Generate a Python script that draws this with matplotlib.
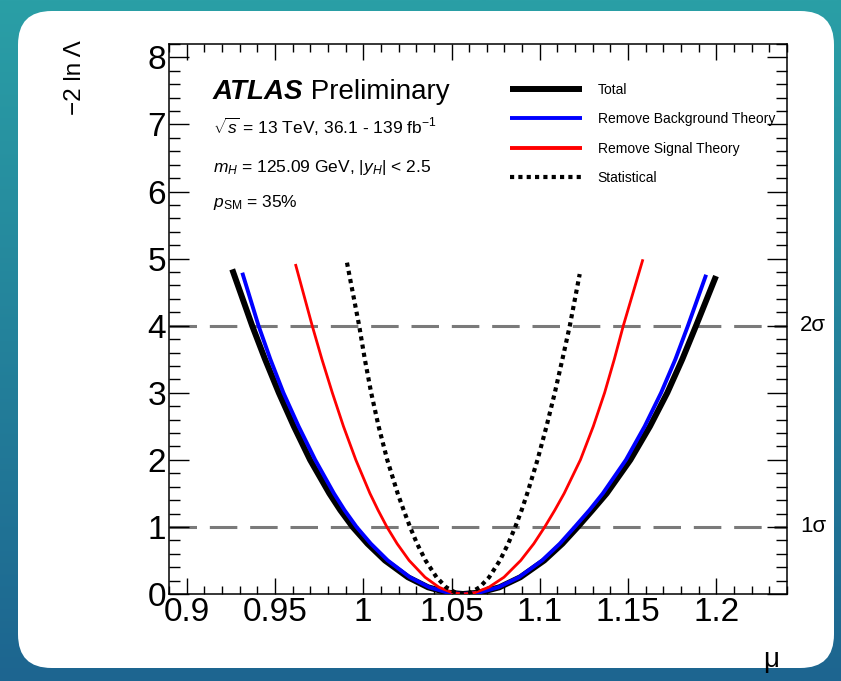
import numpy as np
import matplotlib
matplotlib.use("Agg")
import matplotlib.pyplot as plt
from matplotlib.patches import FancyBboxPatch
from matplotlib.lines import Line2D

plt.rcParams['font.family'] = ['Liberation Sans', 'DejaVu Sans']
plt.rcParams['mathtext.fontset'] = 'custom'
plt.rcParams['mathtext.rm'] = 'Liberation Sans'
plt.rcParams['mathtext.it'] = 'Liberation Sans:italic'
plt.rcParams['mathtext.bf'] = 'Liberation Sans:bold'

# -2 ln Lambda levels shared by every scan
nll_left = [4.0, 3.5, 3.0, 2.5, 2.0, 1.5, 1.25, 1.0, 0.75, 0.5, 0.25, 0.1, 0.02]
nll_right = [0.02, 0.1, 0.25, 0.5, 0.75, 1.0, 1.25, 1.5, 2.0, 2.5, 3.0, 3.5, 4.0]
mu_best = 1.0565

# mu at those levels, plus the end points of each curve
total_left = [0.9371, 0.9444, 0.9522, 0.9607, 0.9699, 0.9808, 0.9870, 0.9940, 1.0024, 1.0123, 1.0253, 1.0367, 1.0477]
total_right = [1.0657, 1.0771, 1.0890, 1.1025, 1.1128, 1.1215, 1.1298, 1.1379, 1.1513, 1.1624, 1.1722, 1.1807, 1.1885]
total_ends = [(0.9258, 4.84), (1.1998, 4.74)]

bkg_left = [0.9407, 0.9474, 0.9548, 0.9634, 0.9728, 0.9834, 0.9894, 0.9962, 1.0043, 1.0139, 1.0264, 1.0374, 1.0480]
bkg_right = [1.0655, 1.0765, 1.0882, 1.1013, 1.1113, 1.1198, 1.1281, 1.1357, 1.1488, 1.1594, 1.1687, 1.1768, 1.1839]
bkg_ends = [(0.9315, 4.79), (1.1942, 4.76)]

sig_left = [0.9711, 0.9766, 0.9825, 0.9888, 0.9958, 1.0038, 1.0084, 1.0134, 1.0192, 1.0260, 1.0350, 1.0429, 1.0504]
sig_right = [1.0631, 1.0711, 1.0797, 1.0892, 1.0966, 1.1028, 1.1085, 1.1138, 1.1230, 1.1303, 1.1367, 1.1422, 1.1473]
sig_ends = [(0.9616, 4.92), (1.1584, 4.99)]

stat_left = [0.9977, 1.0009, 1.0045, 1.0087, 1.0136, 1.0195, 1.0229, 1.0265, 1.0305, 1.0353, 1.0415, 1.0470, 1.0523]
stat_right = [1.0607, 1.0659, 1.0713, 1.0774, 1.0821, 1.0861, 1.0897, 1.0929, 1.0987, 1.1038, 1.1085, 1.1128, 1.1170]
stat_ends = [(0.9908, 4.94), (1.1226, 4.77)]

labels = ['Total', 'Remove Background Theory', 'Remove Signal Theory', 'Statistical']
sigma_levels = [1, 4]
sigma_labels = ['1σ', '2σ']


def scan(left, right, ends):
    mu = [ends[0][0]] + left + [mu_best] + right + [ends[1][0]]
    nll = [ends[0][1]] + nll_left + [0.0] + nll_right + [ends[1][1]]
    return mu, nll


fig = plt.figure(figsize=(8.41, 6.81), dpi=100)

# teal background with a white rounded card
bg = fig.add_axes([0, 0, 1, 1])
grad = np.linspace(0, 1, 256).reshape(-1, 1)
bg.imshow(grad, aspect='auto', extent=[0, 1, 0, 1],
          cmap=matplotlib.colors.LinearSegmentedColormap.from_list('bg', ['#1d6590', '#2a9fa6']),
          origin='lower')
card = FancyBboxPatch((18 / 841, 13 / 681), (834 - 18) / 841, (670 - 13) / 681,
                      boxstyle='round,pad=0,rounding_size=0.04', transform=bg.transAxes,
                      facecolor='white', edgecolor='none', mutation_aspect=841 / 681)
bg.add_patch(card)
bg.set_xlim(0, 1)
bg.set_ylim(0, 1)
bg.axis('off')

ax = fig.add_axes([169 / 841, 1 - 594 / 681, 618 / 841, 550 / 681])
ax.set_facecolor('none')

for lvl in sigma_levels:
    ax.axhline(lvl, color='#7a7a7a', lw=2.2, dashes=(9, 4.2), zorder=1)

mu, nll = scan(total_left, total_right, total_ends)
ax.plot(mu, nll, color='black', lw=4.3, solid_capstyle='butt', solid_joinstyle='round', zorder=3)
mu, nll = scan(bkg_left, bkg_right, bkg_ends)
ax.plot(mu, nll, color='#0000ff', lw=2.8, solid_capstyle='butt', solid_joinstyle='round', zorder=4)
mu, nll = scan(sig_left, sig_right, sig_ends)
ax.plot(mu, nll, color='#ff0000', lw=2.0, solid_capstyle='butt', solid_joinstyle='round', zorder=4)
mu, nll = scan(stat_left, stat_right, stat_ends)
ax.plot(mu, nll, color='black', lw=3.0, linestyle=(0, (1, 1)), dash_capstyle='butt', zorder=4)

ax.set_xlim(0.89, 1.24)
ax.set_ylim(0, 8.2)
ax.set_xticks([0.9, 0.95, 1.0, 1.05, 1.1, 1.15, 1.2])
ax.set_xticklabels(['0.9', '0.95', '1', '1.05', '1.1', '1.15', '1.2'])
ax.set_xticks(np.arange(0.89, 1.2401, 0.01), minor=True)
ax.set_yticks(range(0, 9))
ax.set_yticks(np.arange(0, 8.21, 0.2), minor=True)
ax.tick_params(axis='both', which='both', direction='in', top=True, right=True, width=1.0,
               labelsize=24, pad=2)
ax.tick_params(axis='x', which='major', length=11.5)
ax.tick_params(axis='x', which='minor', length=5.8)
ax.tick_params(axis='y', which='major', length=14.4)
ax.tick_params(axis='y', which='minor', length=7.9)
for s in ax.spines.values():
    s.set_linewidth(1.1)

# legend
handles = [Line2D([], [], color='black', lw=4.3, solid_capstyle='butt'),
           Line2D([], [], color='#0000ff', lw=2.8, solid_capstyle='butt'),
           Line2D([], [], color='#ff0000', lw=2.8, solid_capstyle='butt'),
           Line2D([], [], color='black', lw=3.0, linestyle=(0, (1, 1)), dash_capstyle='butt')]
ax.legend(handles, labels, loc='upper left', bbox_to_anchor=(0.552, 0.929), frameon=False,
          fontsize=10, handlelength=5.2, handletextpad=1.1, labelspacing=1.1,
          borderpad=0, borderaxespad=0)

# ATLAS label block
t1 = ax.text(0.071, 0.9, 'ATLAS', transform=ax.transAxes, fontsize=20,
             fontweight='bold', fontstyle='italic', ha='left', va='baseline')
ax.annotate(' Preliminary', xy=(1, 0), xycoords=t1, fontsize=20, ha='left', va='bottom')
ax.text(0.071, 0.836, r'$\sqrt{s}$ = 13 TeV, 36.1 - 139 fb$^{-1}$', transform=ax.transAxes,
        fontsize=12.5, ha='left', va='baseline')
ax.text(0.071, 0.767, r'$m_H$ = 125.09 GeV, |$y_H$| < 2.5', transform=ax.transAxes,
        fontsize=12.5, ha='left', va='baseline')
ax.text(0.071, 0.703, r'$p_{\rm SM}$ = 35%', transform=ax.transAxes,
        fontsize=12.5, ha='left', va='baseline')

# sigma labels on the right
for lvl, lab in zip(sigma_levels, sigma_labels):
    ax.text(1.021, lvl, lab, transform=ax.get_yaxis_transform(), fontsize=16,
            ha='left', va='center')

fig.text(75 / 841, 1 - 40 / 681, '−2 ln Λ', rotation=90, fontsize=17.5, ha='center', va='top')
fig.text(771 / 841, 1 - 660 / 681, 'μ', fontsize=20, ha='center', va='center')

fig.savefig('out.png', dpi=100)
